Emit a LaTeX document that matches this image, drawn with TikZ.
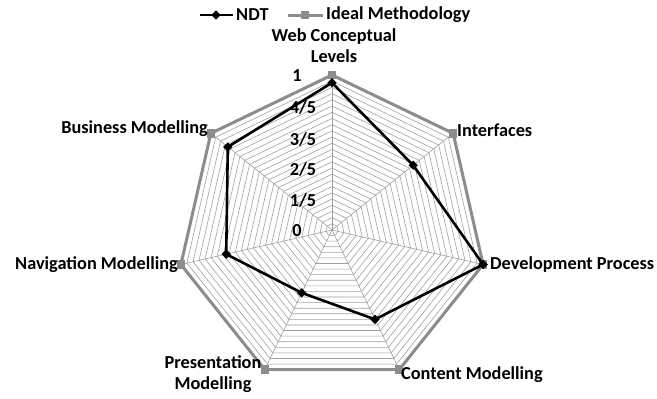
\documentclass[tikz,border=0pt]{standalone}
\usepackage{fontspec}
\setmainfont{Carlito}
\usetikzlibrary{shapes.geometric}
\definecolor{idealgray}{HTML}{8C8C8C}
\definecolor{gridgray}{HTML}{A0A0A0}
\begin{document}
\begin{tikzpicture}[x=1pt,y=1pt,
  gridline/.style={draw=gridgray, line width=0.6pt},
  idealline/.style={draw=idealgray, line width=3pt, line join=miter},
  ndtline/.style={draw=black, line width=2.6pt, line join=round},
  sqmark/.style={rectangle, fill=idealgray, minimum size=8.5pt, inner sep=0pt},
  diamark/.style={diamond, fill=black, minimum size=9.5pt, inner sep=0pt},
  lab/.style={font=\bfseries\fontsize{18.3}{21}\selectfont, inner sep=0pt, text=black},
]
\useasboundingbox (0,0) rectangle (657,-399);
\fill[white] (0,0) rectangle (657,-399);
\begin{scope}[shift={(332,-230)}]
  % grid heptagons
  \foreach \k in {1,...,24} {
    \draw[gridline] (90:\k*6.2) \foreach \i in {1,...,6} { -- (90-\i*360/7:\k*6.2) } -- cycle;
  }
  \coordinate (O) at (0,0);
  % axis points
  \foreach \i/\n in {0/web,1/int,2/dev,3/con,4/pre,5/nav,6/bus} {
    \coordinate (I\n) at (90-\i*360/7:155);
    \draw[gridline] (O) -- (I\n);
  }
  \foreach \i/\n/\v in {0/web/0.95,1/int/0.67,2/dev/1.0,3/con/0.64,4/pre/0.45,5/nav/0.70,6/bus/0.86} {
    \coordinate (N\n) at (90-\i*360/7:155*\v);
  }
\end{scope}
% ideal polygon
\draw[idealline] (Iweb) -- (Iint) -- (Idev) -- (Icon) -- (Ipre) -- (Inav) -- (Ibus) -- cycle;
\foreach \n in {web,int,dev,con,pre,nav,bus} { \node[sqmark] (mI\n) at (I\n) {}; }
% NDT polygon
\draw[ndtline] (Nweb) -- (Nint) -- (Ndev) -- (Ncon) -- (Npre) -- (Nnav) -- (Nbus) -- cycle;
\foreach \n in {web,int,dev,con,pre,nav,bus} { \node[diamark] (mN\n) at (N\n) {}; }
% scale labels
\node[lab] (s0) at (297,-231) {0};
\node[lab] (s1) at (303,-200) {1/5};
\node[lab] (s2) at (303,-169) {2/5};
\node[lab] (s3) at (303,-139) {3/5};
\node[lab] (s4) at (303,-107) {4/5};
\node[lab] (s5) at (297,-76) {1};
% axis labels
\node[lab, align=center] (lweb) at (334,-46) {Web Conceptual\\Levels};
\node[lab, anchor=west] (lint) at (457,-130) {Interfaces};
\node[lab, anchor=west] (ldev) at (490,-265) {Development Process};
\node[lab, anchor=west] (lcon) at (401,-375) {Content Modelling};
\node[lab, align=center] (lpre) at (213,-374) {Presentation\\Modelling};
\node[lab, anchor=east] (lnav) at (178,-265) {Navigation Modelling};
\node[lab, anchor=east] (lbus) at (208,-129) {Business Modelling};
% legend
\coordinate (a1) at (200,-15); \coordinate (a2) at (233,-15);
\draw[ndtline] (a1) -- (a2);
\node[diamark] (ld) at (216,-15) {};
\node[lab, anchor=west] (lndt) at (236,-15) {NDT};
\coordinate (b1) at (288,-15); \coordinate (b2) at (323,-15);
\draw[idealline] (b1) -- (b2);
\node[sqmark] (lsq) at (305,-15) {};
\node[lab, anchor=west] (lideal) at (326,-15) {Ideal Methodology};
\end{tikzpicture}
\end{document}
